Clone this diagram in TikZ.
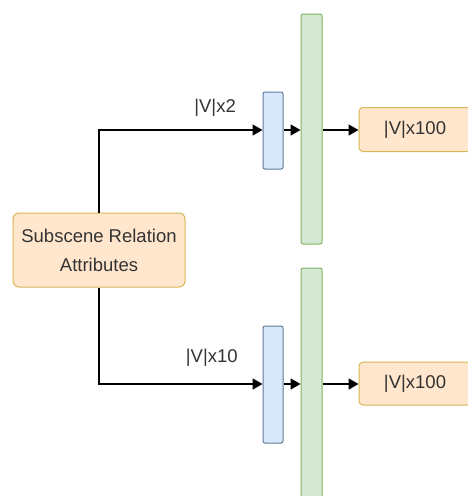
\documentclass[tikz,border=0pt]{standalone}
\usepackage{fontspec}
\setmainfont{Liberation Sans}
\usetikzlibrary{positioning, arrows.meta}
\definecolor{peach}{HTML}{FFE6CC}
\definecolor{peachline}{HTML}{D6B656}
\definecolor{skyfill}{HTML}{DAE8FC}
\definecolor{skyline}{HTML}{5F7A99}
\definecolor{mintfill}{HTML}{D5E8D4}
\definecolor{mintline}{HTML}{82B366}
\definecolor{ink}{HTML}{333333}
\tikzset{
  attr/.style={rectangle, rounded corners=6pt, draw=peachline, fill=peach, line width=1pt,
    minimum width=172pt, minimum height=74pt, align=center, text=ink,
    font=\fontsize{18.5}{29}\selectfont},
  outbox/.style={attr, rounded corners=4pt, minimum width=112pt, minimum height=44pt},
  enc/.style={rectangle, rounded corners=2pt, draw=skyline, fill=skyfill, line width=1pt,
    minimum width=20pt, inner sep=0pt},
  fc/.style={rectangle, rounded corners=2pt, draw=mintline, fill=mintfill, line width=1pt,
    minimum width=21pt, inner sep=0pt},
  link/.style={line width=1.6pt, -{Triangle[length=10pt, width=11pt]}},
  dim/.style={font=\fontsize{18.5}{22}\selectfont, text=ink, inner sep=2pt},
}

\begin{document}
\begin{tikzpicture}[x=1pt, y=-1pt]
\useasboundingbox (0,0) rectangle (468,496);

% -- Attribute input ------------------------------------------
\node[attr] (attr) at (99, 250) {Subscene Relation\\Attributes};

% -- Upper branch ---------------------------------------------
\node[enc, minimum height=77pt] (enc1) at (273, 130.5) {};
\node[fc, minimum height=230pt] (fc1) at (311.5, 129) {};
\node[outbox] (out1) at (415, 129.5) {|V|x100};

% -- Lower branch ---------------------------------------------
\node[enc, minimum height=117pt] (enc2) at (273, 384.5) {};
\node[fc, minimum height=244pt] (fc2) at (311.5, 390) {};
\node[outbox, minimum height=43pt] (out2) at (415, 383.5) {|V|x100};

% -- Connections ----------------------------------------------
\draw[link] (attr.north) |- (enc1.west |- 0,130)
  node[dim, pos=0.855, above=11pt] (dim1) {|V|x2};
\draw[link] (enc1.east |- 0,130) -- (fc1.west |- 0,130);
\draw[link] (fc1.east |- 0,130) -- (out1.west |- 0,130);

\draw[link] (attr.south) |- (enc2.west |- 0,384)
  node[dim, pos=0.845, above=15pt] (dim2) {|V|x10};
\draw[link] (enc2.east |- 0,384) -- (fc2.west |- 0,384);
\draw[link] (fc2.east |- 0,384) -- (out2.west |- 0,384);

\end{tikzpicture}
\end{document}
